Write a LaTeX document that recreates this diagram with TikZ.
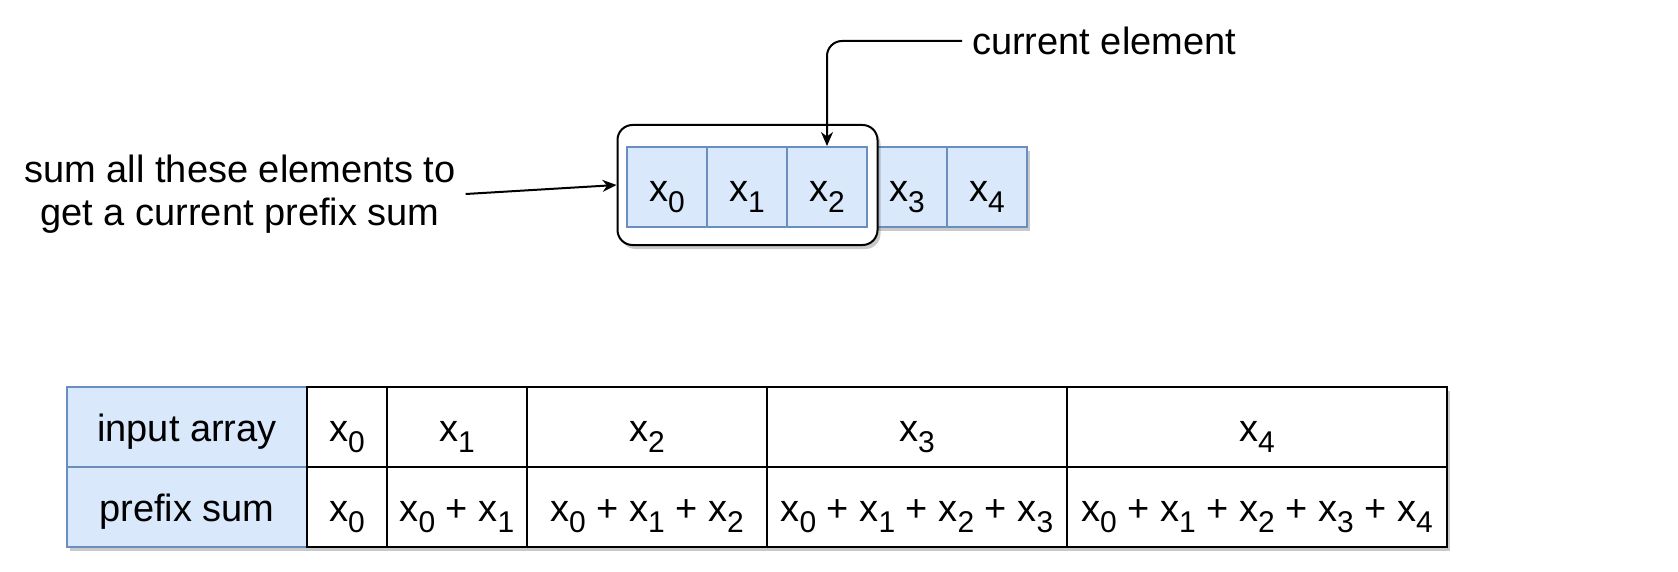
\documentclass[tikz,border=0pt]{standalone}
\usepackage{fontspec}
\setmainfont{Liberation Sans}
\usetikzlibrary{arrows.meta,shadows}
\definecolor{cellfill}{HTML}{DAE8FC}
\definecolor{cellline}{HTML}{6C8EBF}
\newcommand{\xsub}[1]{x\raisebox{-0.3em}{\fontsize{30}{30}\selectfont #1}}
\begin{document}
\begin{tikzpicture}[x=1pt,y=-1pt,
  base/.style={font=\fontsize{38}{43}\selectfont, inner sep=0pt},
  celltext/.style={base, text height=33pt, text depth=5pt},
  shad/.style={drop shadow={shadow xshift=3pt, shadow yshift=-4pt, opacity=0.3, fill=black!70}},
  bluecell/.style={celltext, draw=cellline, fill=cellfill, line width=2pt, minimum height=80pt},
  datacell/.style={celltext, draw=black, fill=white, line width=2pt, minimum height=80pt},
  arr/.style={line width=2pt, -{Stealth[length=14pt,width=12pt]}}
]
\useasboundingbox (0,0) rectangle (1678,572);

% top array
\node[bluecell, minimum width=80pt, shad] (c3) at (907,187) {\xsub{3}};
\node[bluecell, minimum width=80pt, shad] (c4) at (987,187) {\xsub{4}};
\node[draw=black, fill=white, line width=2pt, rounded corners=15pt,
      minimum width=260pt, minimum height=120pt, shad] (rr) at (747.5,185) {};
\node[bluecell, minimum width=80pt] (c0) at (667,187) {\xsub{0}};
\node[bluecell, minimum width=80pt] (c1) at (747,187) {\xsub{1}};
\node[bluecell, minimum width=80pt] (c2) at (827,187) {\xsub{2}};

% labels
\node[base, anchor=west, inner sep=10pt] (ce) at (962,41) {current element};
\draw[arr, rounded corners=15pt] (ce.west) -| (c2.north);

\node[base, align=center, inner sep=10pt] (sum) at (240,194)
  {sum all these elements to\\get a current prefix sum};
\draw[arr] (sum.east) -- (rr.west);

% table
\node[fill=white, minimum width=1380pt, minimum height=160pt, inner sep=0pt, shad] (tbg) at (757,467) {};
\node[bluecell, minimum width=240pt] (h1) at (187,427) {input array};
\node[bluecell, minimum width=240pt] (h2) at (187,507) {prefix sum};

\node[datacell, minimum width=80pt]  (a0) at (347,427) {\xsub{0}};
\node[datacell, minimum width=140pt] (a1) at (457,427) {\xsub{1}};
\node[datacell, minimum width=240pt] (a2) at (647,427) {\xsub{2}};
\node[datacell, minimum width=300pt] (a3) at (917,427) {\xsub{3}};
\node[datacell, minimum width=380pt] (a4) at (1257,427) {\xsub{4}};

\node[datacell, minimum width=80pt]  (p0) at (347,507) {\xsub{0}};
\node[datacell, minimum width=140pt] (p1) at (457,507) {\xsub{0} + \xsub{1}};
\node[datacell, minimum width=240pt] (p2) at (647,507) {\xsub{0} + \xsub{1} + \xsub{2}};
\node[datacell, minimum width=300pt] (p3) at (917,507) {\xsub{0} + \xsub{1} + \xsub{2} + \xsub{3}};
\node[datacell, minimum width=380pt] (p4) at (1257,507) {\xsub{0} + \xsub{1} + \xsub{2} + \xsub{3} + \xsub{4}};
\end{tikzpicture}
\end{document}
